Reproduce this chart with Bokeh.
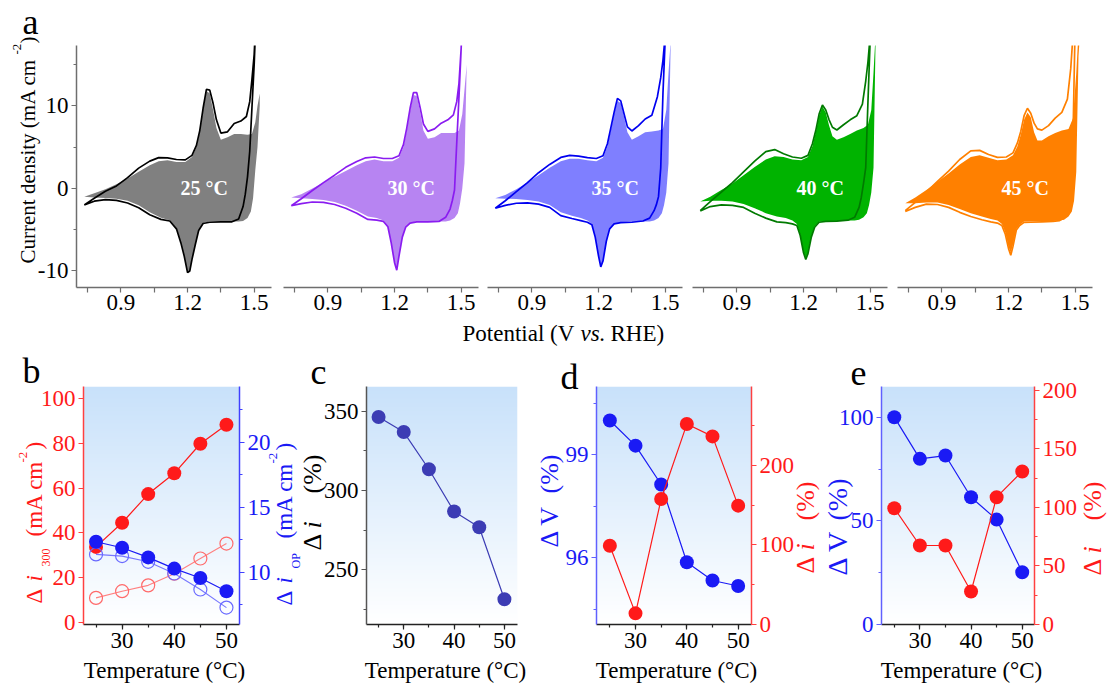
import math
import numpy as np
from bokeh.plotting import figure
from bokeh.models import (Label, FixedTicker, SingleIntervalTicker, LinearAxis, Range1d, GridBox,
                          Spacer, PrintfTickFormatter)
from bokeh.layouts import row, column
from bokeh.embed import file_html
from bokeh.resources import INLINE

FONT = "Liberation Serif"

# ---------------- panel a : cyclic voltammograms ----------------
CV_LABELS = ["25 °C", "30 °C", "35 °C", "40 °C", "45 °C"]
CV_LINE_COLORS = ["#000000", "#8A1CF0", "#0000F0", "#007A00", "#FF8000"]
CV_FILL_COLORS = ["#808080", "#B784F2", "#7F7FFF", "#00B300", "#FF8000"]

# potential grids (V vs. RHE)
AN_V = [0.735, 0.78, 0.83, 0.88, 0.93, 0.98, 1.03, 1.07, 1.11, 1.15, 1.19, 1.22, 1.24, 1.255,
        1.27, 1.285, 1.30, 1.315, 1.33, 1.35, 1.38, 1.41, 1.44, 1.465, 1.48, 1.49, 1.50, 1.51]
CA_V = [1.51, 1.50, 1.49, 1.48, 1.47, 1.46, 1.45, 1.43, 1.40, 1.35, 1.30, 1.27, 1.25, 1.235,
        1.22, 1.21, 1.20, 1.185, 1.17, 1.15, 1.12, 1.08, 1.03, 0.98, 0.93, 0.88, 0.83, 0.78, 0.735]
FU_V = [0.735, 0.78, 0.83, 0.88, 0.93, 0.98, 1.03, 1.07, 1.11, 1.15, 1.19, 1.22, 1.24, 1.255,
        1.27, 1.285, 1.30, 1.315, 1.33, 1.35, 1.38, 1.41, 1.44, 1.47, 1.49, 1.505, 1.515, 1.525]
FL_V = [1.525, 1.515, 1.505, 1.495, 1.485, 1.47, 1.45, 1.43, 1.40, 1.35, 1.30, 1.27, 1.25, 1.235,
        1.22, 1.21, 1.20, 1.185, 1.17, 1.15, 1.12, 1.08, 1.03, 0.98, 0.93, 0.88, 0.83, 0.78, 0.735]

# outline (single cycle) current densities, mA cm-2
I_AN_25 = [-2.0, -1.2, -0.35, 0.3, 1.3, 2.45, 3.3, 3.72, 3.7, 3.5, 3.45, 4.0, 5.2, 7.0, 9.7, 12.0,
           11.9, 10.3, 8.3, 6.7, 6.85, 7.85, 8.15, 8.7, 10.5, 13.2, 16.2, 22.0]
I_CA_25 = [22.0, 15.0, 9.8, 4.5, 1.4, -0.7, -2.2, -3.7, -4.05, -4.05, -4.1, -4.25, -5.1, -6.8, -8.6,
           -10.0, -10.2, -8.2, -6.6, -4.9, -3.95, -3.75, -3.2, -2.35, -1.77, -1.45, -1.35, -1.55, -2.0]
I_AN_30 = [-2.1, -1.25, -0.25, 0.7, 1.6, 2.55, 3.25, 3.7, 3.8, 3.62, 3.62, 3.95, 5.3, 7.3, 9.7, 11.6,
           11.6, 9.8, 7.8, 6.9, 7.2, 7.9, 8.3, 8.9, 10.5, 12.7, 17.0, 24.0]
I_CA_30 = [24.0, 17.0, 11.0, 5.5, -0.2, -1.5, -2.5, -3.5, -4.0, -4.05, -4.05, -4.2, -4.7, -5.9, -8.2,
           -9.9, -9.0, -6.6, -4.65, -4.0, -3.85, -3.76, -3.0, -2.4, -1.95, -1.7, -1.65, -1.85, -2.1]
I_AN_35 = [-2.4, -1.5, -0.4, 0.7, 1.9, 2.9, 3.75, 4.0, 3.9, 3.72, 3.62, 3.95, 5.4, 7.3, 9.2, 10.9,
           10.6, 9.0, 7.45, 6.95, 7.6, 8.4, 8.85, 11.1, 13.4, 15.5, 18.5, 24.0]
I_CA_35 = [24.0, 18.0, 11.5, 2.5, -1.0, -2.0, -2.7, -3.6, -3.95, -4.1, -4.15, -4.3, -4.9, -6.4, -8.8,
           -9.5, -8.2, -5.9, -4.4, -4.1, -3.9, -3.65, -3.3, -2.3, -1.9, -1.75, -1.8, -2.05, -2.4]
I_AN_40 = [-2.7, -1.6, -0.45, 0.7, 2.0, 3.3, 4.45, 4.7, 4.2, 3.8, 3.65, 4.0, 5.4, 7.0, 9.0, 10.1,
           9.5, 8.3, 7.4, 7.07, 7.7, 8.3, 8.8, 10.2, 13.0, 15.3, 18.5, 24.0]
I_CA_40 = [24.0, 18.0, 10.5, 2.5, 0.6, -1.1, -2.3, -3.5, -3.85, -3.96, -4.0, -4.1, -4.7, -5.9, -7.9,
           -8.6, -7.8, -5.7, -4.5, -4.3, -4.15, -4.05, -3.6, -3.0, -2.3, -2.05, -2.0, -2.2, -2.75]
I_AN_45 = [-2.7, -1.7, -0.45, 0.85, 2.1, 3.5, 4.55, 4.6, 4.1, 3.75, 3.8, 4.3, 5.5, 6.9, 8.8, 9.7,
           9.1, 7.9, 7.2, 7.05, 7.6, 8.5, 9.2, 10.8, 14.5, 18.5, 24.0, 30.0]
I_CA_45 = [30.0, 20.0, 6.0, -0.8, -2.0, -3.0, -3.6, -3.9, -4.0, -4.05, -4.1, -4.12, -4.5, -5.05, -7.0,
           -8.1, -7.3, -5.5, -4.5, -4.2, -4.05, -3.8, -3.4, -2.9, -2.3, -1.95, -1.9, -2.3, -2.8]

# envelope of the repeated cycles (filled area): upper and lower boundaries
FU_25 = [-1.0, -0.6, -0.1, 0.5, 1.2, 2.0, 2.8, 3.3, 3.4, 3.2, 3.2, 3.8, 5.0, 6.8, 9.5, 11.8, 11.5,
         9.5, 7.3, 5.9, 6.2, 6.6, 6.6, 6.5, 6.6, 8.0, 10.0, 11.5]
FL_25 = [10.0, 5.0, 2.2, -1.2, -2.8, -3.6, -3.95, -4.0, -4.0, -4.0, -4.0, -4.2, -5.0, -6.7, -8.5,
         -9.9, -10.1, -8.1, -6.5, -4.8, -3.85, -3.55, -2.9, -2.05, -1.5, -1.25, -1.15, -1.1, -1.0]
FU_30 = [-1.1, -0.7, 0.0, 0.7, 1.4, 2.1, 2.8, 3.3, 3.5, 3.3, 3.3, 3.7, 5.0, 7.0, 9.4, 11.3, 11.2,
         9.3, 7.0, 6.0, 6.2, 6.7, 6.7, 6.7, 7.0, 9.0, 12.0, 15.0]
FL_30 = [15.0, 3.0, 0.0, -1.8, -3.0, -3.6, -3.9, -4.0, -4.0, -4.0, -4.0, -4.15, -4.6, -5.8, -8.1,
         -9.8, -8.9, -6.5, -4.6, -3.9, -3.6, -3.4, -2.7, -2.1, -1.65, -1.4, -1.3, -1.2, -1.1]
FU_35 = [-1.2, -0.8, -0.1, 0.7, 1.6, 2.5, 3.3, 3.6, 3.6, 3.4, 3.3, 3.7, 5.1, 7.0, 9.0, 10.6, 10.3,
         8.6, 6.8, 5.9, 6.3, 6.8, 6.9, 7.0, 7.2, 9.5, 14.0, 18.0]
FL_35 = [18.0, 3.0, -0.5, -2.0, -3.0, -3.6, -3.9, -4.0, -4.0, -4.05, -4.1, -4.25, -4.8, -6.3, -8.7,
         -9.4, -8.1, -5.8, -4.3, -3.9, -3.6, -3.3, -2.9, -2.0, -1.6, -1.4, -1.3, -1.25, -1.2]
FU_40 = [-1.6, -1.0, -0.2, 0.6, 1.6, 2.6, 3.5, 3.9, 3.8, 3.5, 3.4, 3.8, 5.1, 6.8, 8.8, 9.9, 9.2,
         7.6, 6.3, 5.9, 6.2, 6.6, 7.0, 7.3, 7.7, 9.5, 14.0, 19.0]
FL_40 = [19.0, 2.5, -0.5, -2.0, -3.0, -3.5, -3.8, -3.9, -3.9, -3.95, -4.0, -4.05, -4.6, -5.8, -7.8,
         -8.5, -7.7, -5.6, -4.3, -3.9, -3.6, -3.4, -3.0, -2.4, -1.9, -1.6, -1.5, -1.5, -1.6]
FU_45 = [-1.8, -1.1, -0.2, 0.8, 1.8, 2.9, 3.8, 4.0, 3.7, 3.4, 3.5, 4.0, 5.1, 6.5, 8.3, 9.2, 8.6,
         6.8, 5.8, 5.8, 6.3, 6.7, 7.0, 7.2, 8.5, 14.0, 19.0, 20.0]
FL_45 = [20.0, 16.0, 2.0, -1.5, -2.8, -3.4, -3.8, -3.9, -3.95, -4.0, -4.0, -4.0, -4.4, -4.95, -6.8,
         -7.8, -7.1, -5.3, -4.3, -3.9, -3.7, -3.4, -3.0, -2.5, -2.0, -1.7, -1.7, -1.8, -1.8]

CV_X_TICKS = [0.9, 1.2, 1.5]
CV_X_MINOR = [0.75, 1.05, 1.35]
CV_Y_TICKS = [-10, 0, 10]
CV_Y_MINOR = [-5, 5, 15]

# ---------------- panels b-e : temperature series ----------------
TEMP = [25, 30, 35, 40, 45, 50]
B_I300_FILLED = [33.7, 44.5, 57.3, 66.6, 79.8, 88.3]
B_I300_OPEN = [10.9, 13.9, 16.5, 21.7, 28.5, 35.2]
B_IOP_FILLED = [12.36, 11.9, 11.16, 10.3, 9.58, 8.56]
B_IOP_OPEN = [11.39, 11.26, 10.82, 9.92, 8.69, 7.3]
C_DI = [346.4, 336.9, 313.4, 286.7, 276.8, 231.3]
D_DV = [99.99, 99.26, 98.13, 95.87, 95.34, 95.18]
D_DI = [99.0, 14.0, 157.7, 251.8, 236.3, 149.3]
E_DV = [100.0, 79.9, 81.5, 61.4, 50.6, 25.2]
E_DI = [99.4, 67.5, 67.5, 28.2, 108.8, 130.8]

RED = "#FF1A1A"
BLUE = "#1A1AF5"
NAVY = "#3C3CB4"
GRAD_TOP = (200, 225, 250)
PAGE_W, PAGE_H = 1107, 684
MS = 14  # marker size


def style_axis(ax, line_color, text_color, size=23, standoff=3):
    ax.axis_line_color = line_color
    ax.axis_line_width = 1.5
    ax.major_tick_line_color = line_color
    ax.minor_tick_line_color = line_color
    ax.major_tick_line_width = 1.2
    ax.minor_tick_line_width = 1.2
    ax.major_tick_in = 0
    ax.major_tick_out = 5
    ax.minor_tick_in = 0
    ax.minor_tick_out = 3
    ax.major_label_text_font = FONT
    ax.major_label_text_font_size = f"{size}px"
    ax.major_label_text_color = text_color
    ax.major_label_standoff = standoff


def make_fig(width, height, l, r, t, b, xr, yr, **kw):
    p = figure(width=width, height=height, x_range=xr, y_range=yr, min_border_left=l,
               min_border_right=r, min_border_top=t, min_border_bottom=b,
               toolbar_location=None, output_backend="svg", **kw)
    p.outline_line_color = None
    p.grid.visible = False
    return p


def add_gradient(p, xr, yr):
    n = 240
    img = np.empty((n, 1), dtype=np.uint32)
    view = img.view(dtype=np.uint8).reshape((n, 1, 4))
    t = np.linspace(0.0, 1.0, n)
    for c in range(3):
        view[:, 0, c] = np.round(255 + (GRAD_TOP[c] - 255) * t).astype(np.uint8)
    view[:, 0, 3] = 255
    p.image_rgba(image=[img], x=xr[0], y=yr[0], dw=xr[1] - xr[0], dh=yr[1] - yr[0])


# ---------------- overlay for all free texts (titles, letters) ----------------
ov = figure(width=PAGE_W, height=PAGE_H, x_range=(0, 1), y_range=(0, 1), min_border=0,
            toolbar_location=None, output_backend="svg", x_axis_location=None,
            y_axis_location=None)
ov.outline_line_color = None
ov.background_fill_color = None
ov.border_fill_color = None
ov.grid.visible = False


def txt(X, Y, text, size, color="black", style="normal", angle=0.0, align="left"):
    """Text whose (vertical) middle sits at page position (X, Y)."""
    ov.add_layout(Label(x=X, y=PAGE_H - Y, x_units="screen", y_units="screen", text=text,
                        angle=angle, text_align=align, text_baseline="middle", text_font=FONT,
                        text_font_size=f"{size}px", text_font_style=style, text_color=color))


def vtxt(X, parts, color):
    for text, size, style, dx, Y in parts:
        txt(X + dx, Y, text, size, color, style, angle=math.pi / 2)


# ---------------- top row ----------------
CV_X_RANGE = (0.70, 1.578)
CV_Y_RANGE = (-12.0, 17.3)
CV_SPECS = [(278, 76, 7), (204, 5, 4), (205, 5, 5), (205, 5, 5), (215, 5, 15)]
cv_an = [I_AN_25, I_AN_30, I_AN_35, I_AN_40, I_AN_45]
cv_ca = [I_CA_25, I_CA_30, I_CA_35, I_CA_40, I_CA_45]
cv_fu = [FU_25, FU_30, FU_35, FU_40, FU_45]
cv_fl = [FL_25, FL_30, FL_35, FL_40, FL_45]
AXIS_GRAY = "#6E6E6E"

top_figs = []
for k in range(5):
    w, l, r = CV_SPECS[k]
    p = make_fig(w, 320, l, r, 45, 33, CV_X_RANGE, CV_Y_RANGE,
                 y_axis_location="left" if k == 0 else None)
    p.patch(FU_V + FL_V, cv_fu[k] + cv_fl[k], fill_color=CV_FILL_COLORS[k], line_color=None)
    p.line(AN_V + CA_V, cv_an[k] + cv_ca[k], line_color=CV_LINE_COLORS[k], line_width=1.7)
    p.add_layout(Label(x=1.275, y=0.1, text=CV_LABELS[k], text_align="center",
                       text_baseline="middle", text_font=FONT, text_font_size="20px",
                       text_font_style="bold", text_color="white"))
    p.xaxis.ticker = FixedTicker(ticks=CV_X_TICKS, minor_ticks=CV_X_MINOR)
    style_axis(p.xaxis[0], AXIS_GRAY, "black", standoff=2)
    p.xaxis.minor_tick_out = 5
    if k == 0:
        p.yaxis.ticker = FixedTicker(ticks=CV_Y_TICKS, minor_ticks=CV_Y_MINOR)
        p.yaxis.formatter = PrintfTickFormatter(format="%d")
        style_axis(p.yaxis[0], AXIS_GRAY, "black", standoff=3)
    top_figs.append(p)

txt(22, 21, "a", 36)
vtxt(27, [("Current density  (mA cm", 21, "normal", 0, 263),
          ("-2", 13, "normal", -11, 54),
          (")", 21, "normal", 0, 43)], "black")
txt(462, 333, "Potential (V", 23)
txt(580, 333, "vs.", 23, style="italic")
txt(610, 333, "RHE)", 23)

# ---------------- bottom row ----------------
T_TICKER = dict(interval=10, num_minor_ticks=2)
DARK = "#222222"

# b
B_X, B_Y, B_YR = (22.6, 52.5), (-1.0, 105.4), (6.0, 24.3)
fb = make_fig(297, 336, 83, 58, 38, 60, B_X, B_Y)
add_gradient(fb, B_X, B_Y)
fb.extra_y_ranges = {"r": Range1d(*B_YR)}
fb.line(TEMP, B_I300_OPEN, line_color="#FF8080", line_width=1.1)
fb.scatter(TEMP, B_I300_OPEN, size=MS - 1, fill_color=None, line_color="#FF6A6A", line_width=1.2)
fb.line(TEMP, B_I300_FILLED, line_color=RED, line_width=1.2)
fb.scatter(TEMP, B_I300_FILLED, size=MS, fill_color=RED, line_color=None)
fb.line(TEMP, B_IOP_OPEN, line_color="#7777FF", line_width=1.1, y_range_name="r")
fb.scatter(TEMP, B_IOP_OPEN, size=MS - 1, fill_color=None, line_color="#6A6AFF", line_width=1.2,
           y_range_name="r")
fb.line(TEMP, B_IOP_FILLED, line_color=BLUE, line_width=1.2, y_range_name="r")
fb.scatter(TEMP, B_IOP_FILLED, size=MS, fill_color=BLUE, line_color=None, y_range_name="r")
fb.xaxis.ticker = SingleIntervalTicker(**T_TICKER)
style_axis(fb.xaxis[0], DARK, "black")
fb.yaxis.ticker = SingleIntervalTicker(interval=20, num_minor_ticks=2)
style_axis(fb.yaxis[0], "#FF4040", RED)
fb.yaxis.minor_tick_line_color = None
ax_r = LinearAxis(y_range_name="r", ticker=SingleIntervalTicker(interval=5, num_minor_ticks=2))
style_axis(ax_r, "#4040FF", BLUE)
fb.add_layout(ax_r, "right")
txt(22, 370, "b", 36)
vtxt(34, [("Δ", 23, "normal", 0, 603), ("i", 23, "italic", 0, 581),
          ("300", 12, "normal", 11, 566), ("(mA cm", 23, "normal", 0, 536),
          ("-2", 13, "normal", -12, 462), (")", 23, "normal", 0, 449)], RED)
vtxt(284, [("Δ", 23, "normal", 0, 605), ("i", 23, "italic", 0, 583),
           ("OP", 12, "normal", 11, 568), ("(mA cm", 23, "normal", 0, 538),
           ("-2", 13, "normal", -12, 463), (")", 23, "normal", 0, 450)], BLUE)
txt(164, 670, "Temperature (°C)", 23, align="center")

# c
C_X, C_Y = (22.6, 52.6), (215.3, 365.7)
fc = make_fig(233, 336, 69, 13, 38, 60, C_X, C_Y)
add_gradient(fc, C_X, C_Y)
fc.line(TEMP, C_DI, line_color=NAVY, line_width=1.2)
fc.scatter(TEMP, C_DI, size=MS, fill_color=NAVY, line_color=None)
fc.xaxis.ticker = SingleIntervalTicker(**T_TICKER)
style_axis(fc.xaxis[0], DARK, "black")
fc.yaxis.ticker = SingleIntervalTicker(interval=50, num_minor_ticks=2)
style_axis(fc.yaxis[0], "#555555", "black")
txt(310, 371, "c", 36)
vtxt(312, [("Δ", 26, "normal", 0, 550), ("i", 26, "italic", 0, 528),
           ("(%)", 26, "normal", 0, 493)], "black")
txt(445, 670, "Temperature (°C)", 23, align="center")

# d
D_X, D_Y, D_YR = (22.4, 52.6), (94.06, 100.98), (0.0, 299.0)
fd = make_fig(292, 336, 66, 71, 38, 60, D_X, D_Y)
add_gradient(fd, D_X, D_Y)
fd.extra_y_ranges = {"r": Range1d(*D_YR)}
fd.line(TEMP, D_DV, line_color=BLUE, line_width=1.2)
fd.scatter(TEMP, D_DV, size=MS, fill_color=BLUE, line_color=None)
fd.line(TEMP, D_DI, line_color=RED, line_width=1.2, y_range_name="r")
fd.scatter(TEMP, D_DI, size=MS, fill_color=RED, line_color=None, y_range_name="r")
fd.xaxis.ticker = SingleIntervalTicker(**T_TICKER)
style_axis(fd.xaxis[0], DARK, "black")
fd.yaxis.ticker = SingleIntervalTicker(interval=3, num_minor_ticks=2)
style_axis(fd.yaxis[0], "#6060FF", BLUE)
ax_dr = LinearAxis(y_range_name="r", ticker=SingleIntervalTicker(interval=100, num_minor_ticks=2))
style_axis(ax_dr, "#FF4040", RED)
fd.add_layout(ax_dr, "right")
txt(560, 376, "d", 36)
vtxt(549, [("Δ V", 26, "normal", 0, 547), ("(%)", 26, "normal", 0, 493)], BLUE)
vtxt(805, [("Δ", 26, "normal", 0, 573), ("i", 26, "italic", 0, 550),
           ("(%)", 26, "normal", 0, 520)], RED)
txt(676, 670, "Temperature (°C)", 23, align="center")

# e
E_X, E_Y, E_YR = (22.5, 52.4), (0.0, 114.8), (0.0, 203.4)
fe = make_fig(285, 336, 59, 73, 38, 60, E_X, E_Y)
add_gradient(fe, E_X, E_Y)
fe.extra_y_ranges = {"r": Range1d(*E_YR)}
fe.line(TEMP, E_DV, line_color=BLUE, line_width=1.2)
fe.scatter(TEMP, E_DV, size=MS, fill_color=BLUE, line_color=None)
fe.line(TEMP, E_DI, line_color=RED, line_width=1.2, y_range_name="r")
fe.scatter(TEMP, E_DI, size=MS, fill_color=RED, line_color=None, y_range_name="r")
fe.xaxis.ticker = SingleIntervalTicker(**T_TICKER)
style_axis(fe.xaxis[0], DARK, "black")
fe.yaxis.ticker = SingleIntervalTicker(interval=50, num_minor_ticks=2)
style_axis(fe.yaxis[0], "#6060FF", BLUE)
ax_er = LinearAxis(y_range_name="r", ticker=SingleIntervalTicker(interval=50, num_minor_ticks=2))
style_axis(ax_er, "#FF4040", RED)
fe.add_layout(ax_er, "right")
txt(850, 372, "e", 36)
vtxt(837, [("Δ V", 28, "normal", 0, 575), ("(%)", 28, "normal", 0, 520)], BLUE)
vtxt(1092, [("Δ", 26, "normal", 0, 575), ("i", 26, "italic", 0, 553),
            ("(%)", 26, "normal", 0, 520)], RED)
txt(961, 670, "Temperature (°C)", 23, align="center")

main = column(row(*top_figs, spacing=0), Spacer(width=PAGE_W, height=28),
              row(fb, fc, fd, fe, spacing=0), spacing=0)
page = GridBox(children=[(main, 0, 0), (ov, 0, 0)])
open("out.html", "w").write(file_html(page, INLINE))
